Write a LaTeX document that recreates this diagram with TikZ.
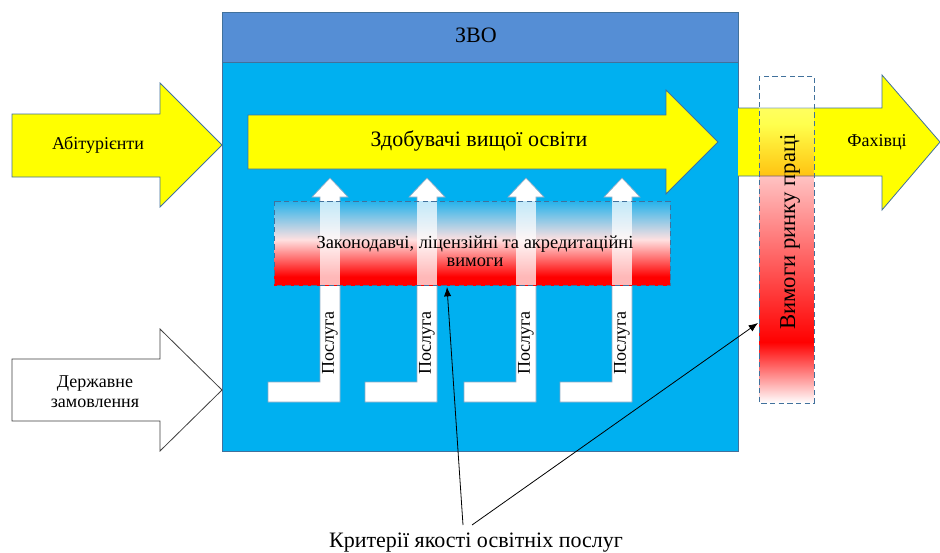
\documentclass[tikz,border=0pt]{standalone}
\usepackage{fontspec}
\setmainfont{Liberation Serif}
\usetikzlibrary{arrows.meta,fadings}
\definecolor{zvohead}{RGB}{85,142,213}
\definecolor{zvobody}{RGB}{0,176,240}
\definecolor{edgeblue}{RGB}{65,113,156}
\definecolor{bandblue}{RGB}{18,174,236}
\definecolor{yel}{RGB}{255,255,0}
\pgfdeclareverticalshading{bandshade}{100bp}{color(0bp)=(red!75!white); color(9bp)=(red); color(30bp)=(red); color(52bp)=(red!12!white); color(77bp)=(bandblue); color(100bp)=(bandblue)}
\tikzfading[name=fadeup, top color=transparent!100, bottom color=transparent!0]
\tikzfading[name=fadedown, top color=transparent!0, bottom color=transparent!100]
\begin{document}
\begin{tikzpicture}[x=0.75pt,y=-0.75pt,
  yarrow/.style={fill=yel,draw=edgeblue,line width=0.6pt},
  warrow/.style={fill=white,draw=edgeblue!60,line width=0.5pt},
  dashbox/.style={draw=edgeblue,dash pattern=on 4pt off 2.5pt,line width=0.6pt},
  lbl/.style={inner sep=0pt,align=center,font=\fontsize{13.5}{16}\selectfont},
  big/.style={inner sep=0pt,align=center,font=\fontsize{16.5}{19}\selectfont},
  ptr/.style={draw=black,line width=0.6pt,-{Latex[length=7pt,width=5.5pt]}}]
\useasboundingbox (0,0) rectangle (940,553);
\fill[white] (0,0) rectangle (940,553);
% HEI box
\draw[fill=zvobody,draw=edgeblue,line width=0.6pt] (222,62) rectangle (738,451);
\draw[fill=zvohead,draw=edgeblue,line width=0.6pt] (222,12) rectangle (738,62);
\node[big] (zvo) at (476,35) {ЗВО};
% inner arrow
\draw[yarrow] (248,115) -- (666,115) -- (666,90) -- (718,142) -- (666,194) -- (666,169) -- (248,169) -- cycle;
\node[big] (students) at (479,141) {Здобувачі вищої освіти};
% service arrows
\foreach \s in {320,417,516,612}{
  \draw[warrow] ({\s-52},402) -- ({\s+20},402) -- ({\s+20},197) -- ({\s+28},197) -- ({\s+10},178) -- ({\s-8},197) -- (\s,197) -- (\s,382) -- ({\s-52},382) -- cycle;
}
% requirements band
\shade[shading=bandshade] (274,201) rectangle (670,285);
\foreach \s in {320,417,516,612}{
  \fill[white,opacity=0.72] (\s,201) rectangle ({\s+20},285);
}
\draw[dashbox] (274,201) rectangle (670,285);
\node[lbl,font=\fontsize{13.8}{13.8}\selectfont] (law) at (475,251) {Законодавчі, ліцензійні та акредитаційні\\вимоги};
\foreach \s [count=\i] in {320,417,516,612}{
  \node[lbl,rotate=90] (svc\i) at ({\s+10},343) {Послуга};
}
% input arrows
\draw[yarrow] (12,114) -- (160,114) -- (160,83) -- (222,145) -- (160,207) -- (160,177) -- (12,177) -- cycle;
\node[lbl] (appl) at (98,145) {Абітурієнти};
\draw[fill=white,draw=black!75,line width=0.6pt] (12,359) -- (160,359) -- (160,329) -- (222,390) -- (160,451) -- (160,421) -- (12,421) -- cycle;
\node[lbl,font=\fontsize{13.5}{15}\selectfont] (order) at (95,392) {Державне\\замовлення};
% output arrow
\draw[yarrow] (738,108) -- (882,108) -- (882,75) -- (940,142) -- (882,210) -- (882,176) -- (738,176);
\node[lbl] (spec) at (877,142) {Фахівці};
% labour market requirements
\fill[white,fill opacity=0.5,path fading=fadedown] (759,76) rectangle (814,200);
\fill[red,path fading=fadeup] (759,125) rectangle (814,342);
\fill[red,path fading=fadedown] (759,342) rectangle (814,403);
\draw[dashbox] (759,76) rectangle (814,403);
\node[inner sep=0pt,rotate=90,font=\fontsize{17}{20}\selectfont] (market) at (790,232) {Вимоги ринку праці};
% criteria label and pointers
\node[big] (crit) at (476,543) {Критерії якості освітніх послуг};
\coordinate (c1) at (463,525);
\coordinate (c2) at (472,525);
\coordinate (t1) at (447,287);
\coordinate (t2) at (758,323);
\draw[ptr] (c1) -- (t1);
\draw[ptr] (c2) -- (t2);
\end{tikzpicture}
\end{document}
